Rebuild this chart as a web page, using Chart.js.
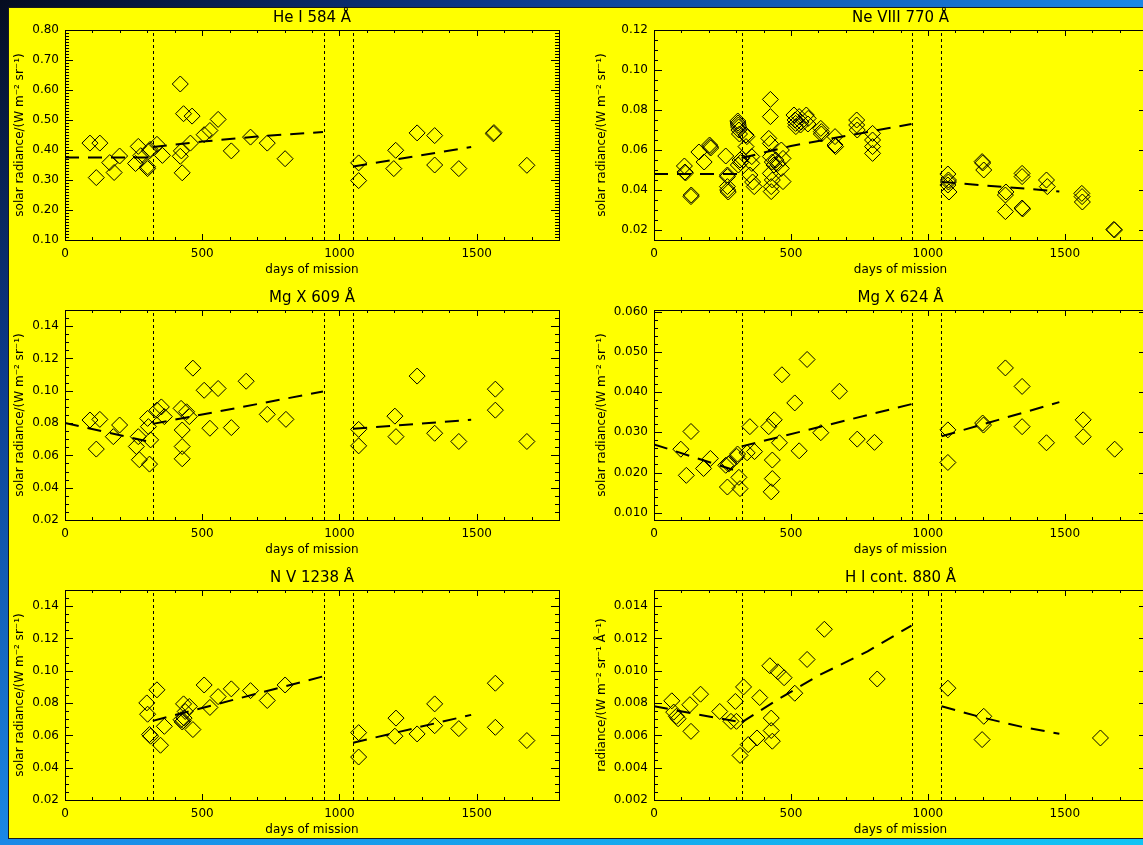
<!DOCTYPE html>
<html>
<head>
<meta charset="utf-8">
<script src="https://cdn.jsdelivr.net/npm/chart.js@4.4.0/dist/chart.umd.min.js"></script>
<style>
html, body { margin: 0; padding: 0; width: 1143px; height: 845px; overflow: hidden; }
body { position: relative; background: linear-gradient(to bottom right, #050c20 0%, #0c3a8c 22%, #1a88e6 50%, #12c4f4 100%); }
#paper { position: absolute; left: 8px; top: 7px; width: 1160px; height: 830px; background: #ffff00;
  border-left: 1px solid #1a1a1a; border-top: 1px solid #1a1a1a; border-bottom: 1px solid #1a1a1a; }
canvas { position: absolute; }
</style>
</head>
<body>
<div id="paper"></div>
<canvas id="c1" width="580" height="280" style="left:0;top:0"></canvas>
<canvas id="c2" width="580" height="280" style="left:580px;top:0"></canvas>
<canvas id="c3" width="580" height="280" style="left:0;top:280px"></canvas>
<canvas id="c4" width="580" height="280" style="left:580px;top:280px"></canvas>
<canvas id="c5" width="580" height="280" style="left:0;top:560px"></canvas>
<canvas id="c6" width="580" height="280" style="left:580px;top:560px"></canvas>
<script>
// days of mission ticks and the three event days (dotted verticals)
const xTicks = [0, 500, 1000, 1500];
const eventDays = [320, 942, 1048];

// He I 584
const heDays = [91, 114, 127, 163, 179, 199, 257, 267, 276, 301, 301, 308, 310, 335, 355, 420, 420, 424, 427, 432,
  457, 463, 507, 528, 558, 606, 676, 737, 802, 1070, 1070, 1198, 1205, 1283, 1347, 1347, 1435, 1561, 1563, 1683];
const heVals = [0.423, 0.308, 0.423, 0.358, 0.325, 0.380, 0.355, 0.412, 0.381, 0.344, 0.338, 0.397, 0.402, 0.419, 0.382, 0.620, 0.379, 0.397, 0.324, 0.521,
  0.423, 0.513, 0.451, 0.465, 0.502, 0.397, 0.443, 0.423, 0.371, 0.357, 0.298, 0.338, 0.399, 0.457, 0.448, 0.350, 0.338, 0.454, 0.458, 0.349];
const heTrendA = [[0, 0.375], [320, 0.375]];
const heTrendB = [[320, 0.41], [500, 0.428], [700, 0.445], [940, 0.46]];
const heTrendC = [[1050, 0.345], [1480, 0.41]];
const heYTicks = [0.1, 0.2, 0.3, 0.4, 0.5, 0.6, 0.7, 0.8];

// Ne VIII 770
const neDays = [111, 113, 115, 135, 136, 164, 183, 203, 205, 207, 262, 268, 268, 268, 269, 271,
  306, 307, 308, 309, 310, 312, 314, 308, 316, 320, 336, 339, 336, 350, 360, 366, 357, 357,
  425, 425, 419, 425, 425, 432, 438, 425, 432, 428, 428, 445, 452, 465, 471, 471, 465,
  511, 515, 517, 518, 530, 537, 535, 556, 563, 562, 609, 611, 611, 661, 661, 663,
  740, 740, 742, 798, 798, 798, 798, 1073, 1075, 1073, 1077, 1075, 1198, 1200, 1204,
  1283, 1285, 1283, 1344, 1344, 1344, 1346, 1433, 1436, 1562, 1563, 1564, 1679, 1681];
const neVals = [0.052, 0.049, 0.0485, 0.0367, 0.0375, 0.059, 0.054, 0.0625, 0.0617, 0.061, 0.057, 0.0475, 0.0467, 0.0417, 0.040, 0.039,
  0.0745, 0.0735, 0.0725, 0.0715, 0.070, 0.068, 0.055, 0.0525, 0.0537, 0.0558, 0.0675, 0.0667, 0.0617, 0.0475, 0.044, 0.0417, 0.0533, 0.0567,
  0.0853, 0.0767, 0.0658, 0.0633, 0.0567, 0.054, 0.0525, 0.0483, 0.045, 0.0417, 0.0392, 0.055, 0.0533, 0.060, 0.0558, 0.0442, 0.0508,
  0.0775, 0.075, 0.0733, 0.0717, 0.0767, 0.074, 0.0725, 0.0775, 0.0758, 0.073, 0.0708, 0.0692, 0.068, 0.0667, 0.0625, 0.0617,
  0.075, 0.0725, 0.070, 0.0683, 0.065, 0.0617, 0.0583, 0.048, 0.045, 0.0425, 0.039, 0.044, 0.0542, 0.0535, 0.050,
  0.0375, 0.039, 0.0292, 0.0483, 0.0467, 0.031, 0.0305, 0.045, 0.0417, 0.0383, 0.0367, 0.034, 0.0203, 0.0200];
const neTrendA = [[0, 0.048], [320, 0.048]];
const neTrendB = [[320, 0.056], [500, 0.062], [700, 0.067], [940, 0.073]];
const neTrendC = [[1050, 0.044], [1480, 0.0393]];
const neYTicks = [0.02, 0.04, 0.06, 0.08, 0.10, 0.12];

// Mg X 609
const mg1Days = [91, 114, 127, 176, 199, 260, 267, 271, 301, 304, 312, 308, 335, 351, 362, 423, 427, 427, 427, 443,
  453, 466, 507, 528, 558, 606, 660, 737, 805, 1070, 1070, 1202, 1206, 1283, 1347, 1435, 1568, 1568, 1683];
const mg1Vals = [0.0819, 0.0639, 0.0823, 0.0716, 0.0788, 0.0655, 0.0716, 0.0573, 0.0829, 0.0778, 0.0696, 0.0546, 0.088, 0.090, 0.084, 0.0891, 0.0757, 0.0655, 0.0579, 0.087,
  0.084, 0.114, 0.1003, 0.0768, 0.1014, 0.0772, 0.1059, 0.0854, 0.0823, 0.0761, 0.0659, 0.0843, 0.0716, 0.1091, 0.0737, 0.0686, 0.101, 0.088, 0.0686];
const mg1TrendA = [[0, 0.080], [320, 0.068]];
const mg1TrendB = [[320, 0.0795], [940, 0.0995]];
const mg1TrendC = [[1050, 0.0765], [1480, 0.082]];
const mg1YTicks = [0.02, 0.04, 0.06, 0.08, 0.10, 0.12, 0.14];

// Mg X 624
const mg2Days = [98, 118, 135, 181, 206, 262, 268, 275, 305, 310, 314, 340, 350, 367, 419, 439, 432, 432, 428, 467,
  458, 514, 530, 559, 609, 677, 742, 805, 1073, 1073, 1200, 1203, 1283, 1344, 1344, 1433, 1567, 1567, 1682, 302, 272];
const mg2Vals = [0.0258, 0.0193, 0.0302, 0.0210, 0.0235, 0.0218, 0.0164, 0.0223, 0.0246, 0.0188, 0.0160, 0.0249, 0.0314, 0.0252, 0.0314, 0.0331, 0.0231, 0.0185, 0.0152, 0.0443,
  0.0274, 0.0373, 0.0254, 0.0481, 0.0299, 0.0402, 0.0283, 0.0275, 0.0306, 0.0225, 0.0323, 0.0318, 0.0460, 0.0414, 0.0314, 0.0274, 0.0331, 0.0289, 0.0258, 0.0240, 0.0221];
const mg2TrendA = [[0, 0.027], [320, 0.020]];
const mg2TrendB = [[320, 0.0265], [940, 0.037]];
const mg2TrendC = [[1050, 0.029], [1480, 0.0375]];
const mg2YTicks = [0.01, 0.02, 0.03, 0.04, 0.05, 0.06];

// N V 1238
const nvDays = [298, 301, 308, 312, 335, 348, 362, 423, 427, 431, 434, 438, 432, 453, 466, 507, 528, 558, 606, 676,
  737, 802, 1070, 1070, 1202, 1206, 1283, 1347, 1347, 1435, 1568, 1568, 1683];
const nvVals = [0.0801, 0.0731, 0.0605, 0.0595, 0.0882, 0.0539, 0.0656, 0.0697, 0.0683, 0.0691, 0.0707, 0.0748, 0.0795, 0.0779, 0.0636, 0.0912, 0.0773, 0.0840, 0.0888, 0.0877,
  0.0816, 0.0912, 0.0617, 0.0466, 0.0595, 0.0707, 0.0609, 0.0795, 0.0660, 0.0642, 0.0923, 0.0650, 0.0568];
const nvTrendB = [[320, 0.069], [940, 0.0965]];
const nvTrendC = [[1050, 0.0555], [1480, 0.0727]];
const nvYTicks = [0.02, 0.04, 0.06, 0.08, 0.10, 0.12, 0.14];

// H I continuum 880
const hiDays = [65, 72, 82, 88, 131, 135, 170, 240, 281, 297, 301, 314, 327, 344, 376, 386, 423, 428, 428, 432,
  452, 475, 514, 559, 622, 815, 1073, 1204, 1198, 1630];
const hiVals = [0.00814, 0.00744, 0.00718, 0.00703, 0.0079, 0.00625, 0.00855, 0.00748, 0.00687, 0.0081, 0.00687, 0.00476, 0.0090, 0.00543, 0.00584, 0.00834, 0.01031, 0.00707, 0.0063, 0.00564,
  0.00994, 0.00957, 0.00861, 0.0107, 0.01257, 0.00949, 0.00892, 0.00718, 0.00574, 0.00584];
const hiTrendA = [[0, 0.0078], [320, 0.0068]];
const hiTrendB = [[320, 0.0068], [450, 0.0082], [600, 0.0097], [780, 0.0112], [940, 0.0128]];
const hiTrendC = [[1050, 0.0078], [1200, 0.0071], [1350, 0.0065], [1480, 0.0061]];
const hiYTicks = [0.002, 0.004, 0.006, 0.008, 0.010, 0.012, 0.014];

const radTitle = 'solar radiance/(W m\u207B\u00B2 sr\u207B\u00B9)';

Chart.defaults.font.family = "'DejaVu Sans', sans-serif";
Chart.defaults.font.size = 12;
Chart.defaults.color = '#000';

// IDL style frame: box with inward ticks on all four sides, plus dotted event lines
const idlFrame = {
    id: 'idlFrame',
    afterDatasetsDraw(chart, args, opts) {
        const ctx = chart.ctx;
        const a = chart.chartArea;
        const xs = chart.scales.x, ys = chart.scales.y;
        ctx.save();
        ctx.strokeStyle = '#000';
        ctx.lineWidth = 1;
        // event lines
        ctx.setLineDash([3, 3]);
        eventDays.forEach(function (d) {
            const px = Math.round(xs.getPixelForValue(d)) + 0.5;
            ctx.beginPath(); ctx.moveTo(px, a.bottom); ctx.lineTo(px, a.top); ctx.stroke();
        });
        ctx.setLineDash([]);
        ctx.strokeRect(Math.round(a.left) + 0.5, Math.round(a.top) + 0.5, Math.round(a.right - a.left), Math.round(a.bottom - a.top));
        ctx.beginPath();
        // x ticks every 100 days, major every 500
        for (let d = 0; d <= xs.max; d += 100) {
            const px = Math.round(xs.getPixelForValue(d)) + 0.5;
            const len = d % 500 === 0 ? 6 : 3;
            ctx.moveTo(px, a.bottom); ctx.lineTo(px, a.bottom - len);
            ctx.moveTo(px, a.top); ctx.lineTo(px, a.top + len);
        }
        // y ticks
        const n0 = Math.ceil(ys.min / opts.minor - 1e-6), n1 = Math.floor(ys.max / opts.minor + 1e-6);
        for (let i = n0; i <= n1; i++) {
            const v = i * opts.minor;
            const major = opts.major.some(function (t) { return Math.abs(t - v) < opts.minor / 10; });
            const py = Math.round(ys.getPixelForValue(v)) + 0.5;
            const len = major ? 8 : 4;
            ctx.moveTo(a.left, py); ctx.lineTo(a.left + len, py);
            ctx.moveTo(a.right, py); ctx.lineTo(a.right - len, py);
        }
        ctx.stroke();
        ctx.restore();
    }
};

function trendSet(pts) {
    return {
        type: 'line',
        data: pts.map(function (p) { return {x: p[0], y: p[1]}; }),
        borderColor: '#000',
        borderWidth: 2,
        borderDash: [14, 9],
        pointRadius: 0,
        fill: false,
        tension: 0
    };
}

function makePanel(id, p) {
    const right = p.col === 1;
    const datasets = [{
        type: 'scatter',
        data: p.days.map(function (d, i) { return {x: d, y: p.vals[i]}; }),
        pointStyle: 'rectRot',
        pointRadius: 8,
        pointBorderWidth: 1,
        borderColor: '#000',
        backgroundColor: 'rgba(0,0,0,0)'
    }].concat(p.trends.map(trendSet));

    return new Chart(document.getElementById(id).getContext('2d'), {
        data: {datasets: datasets},
        plugins: [idlFrame],
        options: {
            responsive: false,
            animation: false,
            layout: {padding: {left: 0, right: right ? 13 : 21, top: 0, bottom: 0}},
            plugins: {
                legend: {display: false},
                tooltip: {enabled: false},
                title: {
                    display: true, text: p.title, fullSize: false,
                    font: {size: 15, weight: 'normal'}, color: '#000',
                    padding: {top: 9, bottom: 3}
                },
                idlFrame: {minor: p.minor, major: p.yTicks}
            },
            scales: {
                x: {
                    type: 'linear', min: 0, max: 1800,
                    grid: {display: false, drawTicks: false},
                    border: {display: false},
                    ticks: {padding: 7, font: {size: 12}, callback: function (v) { return v; }},
                    afterBuildTicks: function (s) { s.ticks = xTicks.map(function (v) { return {value: v}; }); },
                    afterFit: function (s) { s.height = 40; },
                    title: {display: true, text: 'days of mission', font: {size: 12}, padding: {top: 0, bottom: 3}}
                },
                y: {
                    type: 'linear', min: p.yMin, max: p.yMax,
                    grid: {display: false, drawTicks: false},
                    border: {display: false},
                    ticks: {padding: 6, font: {size: 12}, callback: function (v) { return v.toFixed(p.dec); }},
                    afterBuildTicks: function (s) { s.ticks = p.yTicks.map(function (v) { return {value: v}; }); },
                    afterFit: function (s) { s.width = right ? 74 : 65; },
                    title: {display: true, text: p.yTitle, font: {size: 12}, padding: {top: right ? 15 : 13, bottom: 0}}
                }
            }
        }
    });
}

makePanel('c1', {col: 0, title: 'He I 584 \u00C5', days: heDays, vals: heVals, trends: [heTrendA, heTrendB, heTrendC],
    yMin: 0.1, yMax: 0.8, yTicks: heYTicks, minor: 0.01, dec: 2, yTitle: radTitle});
makePanel('c2', {col: 1, title: 'Ne VIII 770 \u00C5', days: neDays, vals: neVals, trends: [neTrendA, neTrendB, neTrendC],
    yMin: 0.015, yMax: 0.12, yTicks: neYTicks, minor: 0.005, dec: 2, yTitle: radTitle});
makePanel('c3', {col: 0, title: 'Mg X 609 \u00C5', days: mg1Days, vals: mg1Vals, trends: [mg1TrendA, mg1TrendB, mg1TrendC],
    yMin: 0.02, yMax: 0.15, yTicks: mg1YTicks, minor: 0.005, dec: 2, yTitle: radTitle});
makePanel('c4', {col: 1, title: 'Mg X 624 \u00C5', days: mg2Days, vals: mg2Vals, trends: [mg2TrendA, mg2TrendB, mg2TrendC],
    yMin: 0.0082, yMax: 0.0604, yTicks: mg2YTicks, minor: 0.002, dec: 3, yTitle: radTitle});
makePanel('c5', {col: 0, title: 'N V 1238 \u00C5', days: nvDays, vals: nvVals, trends: [nvTrendB, nvTrendC],
    yMin: 0.02, yMax: 0.15, yTicks: nvYTicks, minor: 0.005, dec: 2, yTitle: radTitle});
makePanel('c6', {col: 1, title: 'H I cont. 880 \u00C5', days: hiDays, vals: hiVals, trends: [hiTrendA, hiTrendB, hiTrendC],
    yMin: 0.002, yMax: 0.015, yTicks: hiYTicks, minor: 0.0005, dec: 3,
    yTitle: 'radiance/(W m\u207B\u00B2 sr\u207B\u00B9 \u00C5\u207B\u00B9)'});
</script>
</body>
</html>
